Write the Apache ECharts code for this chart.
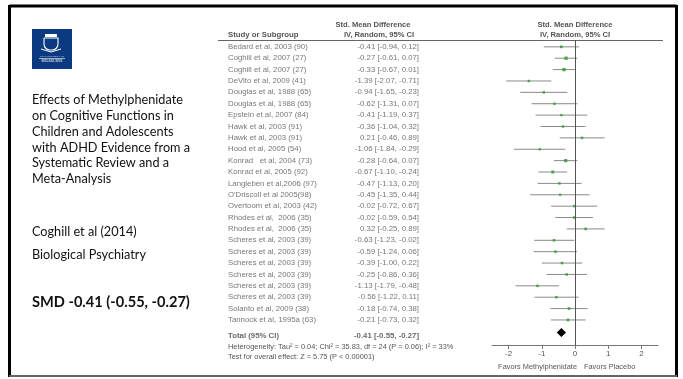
<!DOCTYPE html>
<html><head><meta charset="utf-8">
<script src="https://cdn.jsdelivr.net/npm/echarts@6/dist/echarts.min.js"></script>
<style>html,body{margin:0;padding:0;background:#fff}#c{width:683px;height:379px}</style>
</head><body><div id="c"></div>
<script>
const studies = ["Bedard et al, 2003 (90)","Coghill et al, 2007 (27)","Coghill et al, 2007 (27)","DeVito et al, 2009 (41)","Douglas et al, 1988 (65)","Douglas et al, 1988 (65)","Epstein et al, 2007 (84)","Hawk et al, 2003 (91)","Hawk et al, 2003 (91)","Hood et al, 2005 (54)","Konrad   et al, 2004 (73)","Konrad et al, 2005 (92)","Langleben et al,2006 (97)","O'Driscoll et al 2005(98)","Overtoom et al, 2003 (42)","Rhodes et al,  2006 (35)","Rhodes et al,  2006 (35)","Scheres et al, 2003 (39)","Scheres et al, 2003 (39)","Scheres et al, 2003 (39)","Scheres et al, 2003 (39)","Scheres et al, 2003 (39)","Scheres et al, 2003 (39)","Solanto et al, 2009 (38)","Tannock et al, 1995a (63)"];
const smd   = [-0.41,-0.27,-0.33,-1.39,-0.94,-0.62,-0.41,-0.36,0.21,-1.06,-0.28,-0.67,-0.47,-0.45,-0.02,-0.02,0.32,-0.63,-0.59,-0.39,-0.25,-1.13,-0.56,-0.18,-0.21];
const lower = [-0.94,-0.61,-0.67,-2.07,-1.65,-1.31,-1.19,-1.04,-0.46,-1.84,-0.64,-1.10,-1.13,-1.35,-0.72,-0.59,-0.25,-1.23,-1.24,-1.00,-0.86,-1.79,-1.22,-0.74,-0.73];
const upper = [0.12,0.07,0.01,-0.71,-0.23,0.07,0.37,0.32,0.89,-0.29,0.07,-0.24,0.20,0.44,0.67,0.54,0.89,-0.02,0.06,0.22,0.36,-0.48,0.11,0.38,0.32];
const total = {label:"Total (95% CI)", smd:-0.41, lower:-0.55, upper:-0.27};
const xTicks = [-2,-1,0,1,2];
const heterogeneity = "Heterogeneity: Tau² = 0.04; Chi² = 35.83, df = 24 (P = 0.06); I² = 33%";
const overall = "Test for overall effect: Z = 5.75 (P < 0.00001)";
const titleLines = ["Effects of Methylphenidate","on Cognitive Functions in","Children and Adolescents","with ADHD Evidence from a","Systematic Review and a","Meta-Analysis"];

const fmt = v => (v < 0 ? "-" : "") + Math.abs(v).toFixed(2);
const ciText = (e,l,u) => fmt(e) + " [" + fmt(l) + ", " + fmt(u) + "]";
const TOTAL_ROW = 25.4;
const tblFont = 'Liberation Sans, Arial, sans-serif';
const txtFont = 'Lato, Carlito, sans-serif';

const chart = echarts.init(document.getElementById('c'), null, {renderer:'canvas'});
const yAx = gi => ({type:'value', gridIndex:gi, min:-0.6, max:26.2, inverse:true, show:false});

const titleGraphics = titleLines.map((t,i)=>({type:'text', x:32, y:100+i*15.8, style:{text:t, font:'12.7px '+txtFont, fill:'#111', textVerticalAlign:'middle'}}));

chart.setOption({
  animation:false,
  grid:[{left:492, right:25, top:40, bottom:34}, {left:225, right:263, top:40, bottom:34}],
  xAxis:[
    {type:'value', gridIndex:0, min:-2.5, max:2.5, splitLine:{show:false},
     axisLine:{onZero:false, lineStyle:{color:'#777', width:1}},
     axisTick:{customValues:xTicks, length:4, lineStyle:{color:'#777'}},
     axisLabel:{customValues:xTicks, fontSize:8, color:'#555', margin:5, fontFamily:tblFont}},
    {type:'value', gridIndex:1, min:0, max:1, show:false}
  ],
  yAxis:[yAx(0), yAx(1)],
  series:[
    {type:'custom', xAxisIndex:0, yAxisIndex:0,
     data: studies.map((s,i)=>[lower[i], upper[i], i]),
     renderItem:(p,api)=>{const a=api.coord([api.value(0),api.value(2)]), b=api.coord([api.value(1),api.value(2)]);
       return {type:'line', shape:{x1:a[0],y1:a[1],x2:b[0],y2:b[1]}, style:{stroke:'#8a8a8a', lineWidth:1}};},
     markLine:{silent:true, symbol:'none', label:{show:false}, lineStyle:{color:'#555', width:1, type:'solid'}, data:[{xAxis:0}]}},
    {type:'scatter', xAxisIndex:0, yAxisIndex:0, symbol:'rect',
     data: studies.map((s,i)=>[smd[i], i, upper[i]-lower[i]]),
     symbolSize: v => 1.6 + 1.2/v[2],
     itemStyle:{color:'#2e9a2e'}},
    {type:'custom', xAxisIndex:0, yAxisIndex:0,
     data:[[total.lower, total.smd, total.upper, TOTAL_ROW-0.3]],
     renderItem:(p,api)=>{const y=api.value(3);
       const l=api.coord([api.value(0),y]), e=api.coord([api.value(1),y]), u=api.coord([api.value(2),y]);
       return {type:'polygon', shape:{points:[[l[0],l[1]],[e[0],e[1]-4.5],[u[0],u[1]],[e[0],e[1]+4.5]]}, style:{fill:'#000'}};}},
    {type:'scatter', xAxisIndex:1, yAxisIndex:1, symbolSize:0, silent:true,
     data: studies.map((s,i)=>[0,i]),
     label:{show:true, position:'right', distance:3, formatter:p=>studies[p.dataIndex], fontSize:7.8, color:'#555', fontFamily:tblFont}},
    {type:'scatter', xAxisIndex:1, yAxisIndex:1, symbolSize:0, silent:true,
     data: studies.map((s,i)=>[1,i]),
     label:{show:true, position:'left', distance:1, formatter:p=>ciText(smd[p.dataIndex],lower[p.dataIndex],upper[p.dataIndex]), fontSize:7.8, color:'#555', fontFamily:tblFont}},
    {type:'scatter', xAxisIndex:1, yAxisIndex:1, symbolSize:0, silent:true,
     data:[[0,TOTAL_ROW]],
     label:{show:true, position:'right', distance:3, formatter:total.label, fontSize:7.8, fontWeight:'bold', color:'#444', fontFamily:tblFont}},
    {type:'scatter', xAxisIndex:1, yAxisIndex:1, symbolSize:0, silent:true,
     data:[[1,TOTAL_ROW]],
     label:{show:true, position:'left', distance:1, formatter:ciText(total.smd,total.lower,total.upper), fontSize:7.8, fontWeight:'bold', color:'#444', fontFamily:tblFont}}
  ],
  graphic:[
    {type:'line', shape:{x1:9.5,y1:6,x2:676.5,y2:6}, style:{stroke:'#000', lineWidth:3}},
    {type:'line', shape:{x1:9.5,y1:5,x2:9.5,y2:377}, style:{stroke:'#000', lineWidth:3}},
    {type:'line', shape:{x1:676.5,y1:5,x2:676.5,y2:377}, style:{stroke:'#000', lineWidth:3}},
    {type:'line', shape:{x1:9,y1:376,x2:677,y2:376}, style:{stroke:'#666', lineWidth:2}},
    {type:'rect', shape:{x:32,y:29,width:40,height:40}, style:{fill:'#0b3a80'}},
    {type:'rect', shape:{x:44,y:38,width:14,height:12,r:[0,0,6,6]}, style:{fill:'none', stroke:'#fff', lineWidth:1.1}},
    {type:'rect', shape:{x:45,y:34,width:12,height:3}, style:{fill:'#fff'}},
    {type:'polyline', shape:{points:[[41,49],[51,52],[61,49]]}, style:{stroke:'#fff', lineWidth:1}},
    {type:'text', x:52, y:56, style:{text:'THE UNIVERSITY OF', font:'2.5px serif', fill:'#fff', align:'center', textVerticalAlign:'middle'}},
    {type:'line', shape:{x1:39,y1:58.5,x2:65,y2:58.5}, style:{stroke:'#fff', lineWidth:0.6}},
    {type:'text', x:52, y:61.5, style:{text:'MELBOURNE', font:'3.4px serif', fill:'#fff', align:'center', textVerticalAlign:'middle'}},
    ...titleGraphics,
    {type:'text', x:32, y:232, style:{text:'Coghill et al (2014)', font:'12.7px '+txtFont, fill:'#111', textVerticalAlign:'middle'}},
    {type:'text', x:32, y:255, style:{text:'Biological Psychiatry', font:'12.7px '+txtFont, fill:'#111', textVerticalAlign:'middle'}},
    {type:'text', x:32, y:302, style:{text:'SMD -0.41 (-0.55, -0.27)', font:'bold 14.6px '+txtFont, fill:'#111', textVerticalAlign:'middle'}},
    {type:'line', shape:{x1:218,y1:40.5,x2:663,y2:40.5}, style:{stroke:'#666', lineWidth:1}},
    {type:'text', x:228, y:35, style:{text:'Study or Subgroup', font:'bold 7.8px '+tblFont, fill:'#555', textVerticalAlign:'middle'}},
    {type:'text', x:373, y:25, style:{text:'Std. Mean Difference', font:'bold 7.6px '+tblFont, fill:'#555', align:'center', textVerticalAlign:'middle'}},
    {type:'text', x:379, y:35, style:{text:'IV, Random, 95% CI', font:'bold 7.6px '+tblFont, fill:'#555', align:'center', textVerticalAlign:'middle'}},
    {type:'text', x:575, y:25, style:{text:'Std. Mean Difference', font:'bold 7.6px '+tblFont, fill:'#555', align:'center', textVerticalAlign:'middle'}},
    {type:'text', x:575, y:35, style:{text:'IV, Random, 95% CI', font:'bold 7.6px '+tblFont, fill:'#555', align:'center', textVerticalAlign:'middle'}},
    {type:'text', x:228, y:347, style:{text:heterogeneity, font:'7.4px '+tblFont, fill:'#555', textVerticalAlign:'middle'}},
    {type:'text', x:228, y:357, style:{text:overall, font:'7.4px '+tblFont, fill:'#555', textVerticalAlign:'middle'}},
    {type:'text', x:577, y:367, style:{text:'Favors Methylphenidate', font:'7.4px '+tblFont, fill:'#555', align:'right', textVerticalAlign:'middle'}},
    {type:'text', x:584, y:367, style:{text:'Favors Placebo', font:'7.4px '+tblFont, fill:'#555', textVerticalAlign:'middle'}}
  ]
});
</script></body></html>
